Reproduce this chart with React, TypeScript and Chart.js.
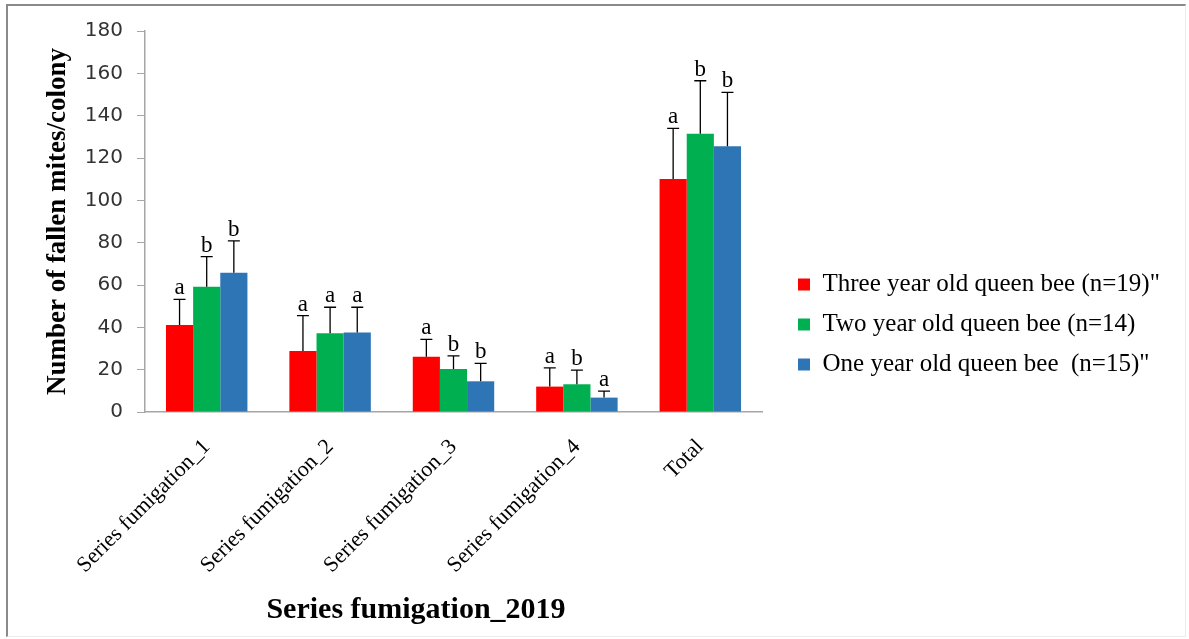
import React, { useEffect, useRef } from 'react';
import { Chart, registerables } from 'chart.js';

Chart.register(...registerables);

const categories = ['Series fumigation_1', 'Series fumigation_2', 'Series fumigation_3', 'Series fumigation_4', 'Total'];
const seriesNames = [
  'Three year old queen bee (n=19)"',
  'Two year old queen bee (n=14)',
  'One year old queen bee  (n=15)"',
];
const seriesColors = ['#FF0000', '#00B050', '#2E75B6'];

const threeYear = [41.1, 28.8, 26.1, 12.0, 110.1];
const twoYear = [59.2, 37.2, 20.3, 13.1, 131.5];
const oneYear = [65.8, 37.6, 14.5, 6.8, 125.6];

const threeYearErr = [12.1, 16.7, 8.2, 8.8, 23.9];
const twoYearErr = [14.2, 12.3, 6.2, 6.7, 25.0];
const oneYearErr = [15.0, 11.9, 8.5, 3.1, 25.4];

const threeYearLetters = ['a', 'a', 'a', 'a', 'a'];
const twoYearLetters = ['b', 'a', 'b', 'b', 'b'];
const oneYearLetters = ['b', 'a', 'b', 'a', 'b'];

const yMin = 0;
const yMax = 180;
const yStep = 20;

const yAxisTitle = 'Number of fallen mites/colony';
const xAxisTitle = 'Series fumigation_2019';

const SERIF = "'Times New Roman', 'Liberation Serif', serif";
const SANS = "'DejaVu Sans', 'Liberation Sans', sans-serif";

const errorsBySeries = [threeYearErr, twoYearErr, oneYearErr];
const lettersBySeries = [threeYearLetters, twoYearLetters, oneYearLetters];

const errorBarPlugin = {
  id: 'errorBars',
  afterDatasetsDraw(chart: any) {
    const ctx = chart.ctx;
    const y = chart.scales.y;
    chart.data.datasets.forEach((ds: any, i: number) => {
      const meta = chart.getDatasetMeta(i);
      const errs = errorsBySeries[i];
      const letters = lettersBySeries[i];
      meta.data.forEach((bar: any, j: number) => {
        const v = ds.data[j];
        const base = y.getPixelForValue(v);
        const top = y.getPixelForValue(v + errs[j]);
        ctx.save();
        ctx.strokeStyle = '#000';
        ctx.lineWidth = 1.3;
        ctx.beginPath();
        ctx.moveTo(bar.x, base);
        ctx.lineTo(bar.x, top);
        ctx.moveTo(bar.x - 6, top);
        ctx.lineTo(bar.x + 6, top);
        ctx.stroke();
        ctx.fillStyle = '#000';
        ctx.font = `23px ${SERIF}`;
        ctx.textAlign = 'center';
        ctx.textBaseline = 'alphabetic';
        ctx.fillText(letters[j], bar.x, top - 5);
        ctx.restore();
      });
    });
  },
};

const xTitlePlugin = {
  id: 'xTitle',
  afterDraw(chart: any) {
    const ctx = chart.ctx;
    ctx.save();
    ctx.fillStyle = '#000';
    ctx.font = `bold 30px ${SERIF}`;
    ctx.textAlign = 'center';
    ctx.textBaseline = 'alphabetic';
    ctx.fillText(xAxisTitle, 416, 618);
    ctx.restore();
  },
};

const legendPlace = {
  id: 'legendPlace',
  beforeLayout(chart: any) {
    const lg = chart.legend;
    if (!lg || lg.__patched) return;
    const orig = lg.fit.bind(lg);
    lg.fit = function () {
      orig();
      this.width = 1189 - 762;
    };
    lg.__patched = true;
  },
  afterLayout(chart: any) {
    const lg = chart.legend;
    if (!lg) return;
    const w = lg.width;
    lg.left = 783;
    lg.right = lg.left + w;
    lg.top = 257;
    lg.bottom = 257 + 15 + 120;
    lg.height = lg.bottom - lg.top;
  },
};

export default function App() {
  const ref = useRef<HTMLCanvasElement | null>(null);

  useEffect(() => {
    if (!ref.current) return;
    const chart = new Chart(ref.current, {
      type: 'bar',
      data: {
        labels: categories,
        datasets: [threeYear, twoYear, oneYear].map((d, i) => ({
          label: seriesNames[i],
          data: d,
          backgroundColor: seriesColors[i],
          borderWidth: 0,
          barPercentage: 1,
          categoryPercentage: 0.66,
        })),
      },
      options: {
        responsive: false,
        animation: false,
        layout: { padding: { top: 31, left: 0, right: 0, bottom: 0 } },
        plugins: {
          tooltip: { enabled: false },
          legend: {
            position: 'right',
            labels: {
              boxWidth: 12,
              boxHeight: 12,
              padding: 15,
              color: '#000',
              font: { family: SERIF, size: 25 },
            },
          },
        },
        scales: {
          x: {
            grid: { display: false, drawTicks: false },
            border: { display: true, color: '#a6a6a6', width: 1.5 },
            ticks: {
              autoSkip: false,
              maxRotation: 45,
              minRotation: 45,
              padding: 22,
              color: '#000',
              font: { family: SERIF, size: 22 },
            },
            afterFit(scale: any) {
              scale.height = 639 - 412;
              scale.paddingLeft = 0;
              scale.paddingRight = 0;
            },
          },
          y: {
            min: yMin,
            max: yMax,
            ticks: {
              stepSize: yStep,
              padding: 14,
              color: '#333',
              font: { family: SANS, size: 20 },
            },
            grid: { drawOnChartArea: false, drawTicks: true, tickLength: 8, color: '#a6a6a6' },
            border: { display: true, color: '#a6a6a6', width: 1.5 },
            title: {
              display: true,
              text: yAxisTitle,
              color: '#000',
              font: { family: SERIF, size: 27, weight: 'bold' },
              padding: { top: 42, bottom: 0 },
            },
            afterFit(scale: any) {
              scale.width = 145;
              scale.paddingTop = 0;
              scale.paddingBottom = 0;
            },
          },
        },
      },
      plugins: [errorBarPlugin, xTitlePlugin, legendPlace],
    } as any);
    return () => chart.destroy();
  }, []);

  return (
    <div style={{ position: 'absolute', left: 0, top: 0, width: 1189, height: 639, background: '#fff', overflow: 'hidden' }}>
      <div
        style={{
          position: 'absolute',
          left: 6,
          top: 4,
          width: 1189 - 6 - 6,
          height: 639 - 4 - 5,
          borderTop: '2px solid #8a8a8a',
          borderLeft: '2px solid #8a8a8a',
          borderRight: '1px solid #ececec',
          borderBottom: '1px solid #ececec',
        }}
      />
      <canvas ref={ref} width={1189} height={639} style={{ position: 'absolute', left: 0, top: 0 }} />
    </div>
  );
}
